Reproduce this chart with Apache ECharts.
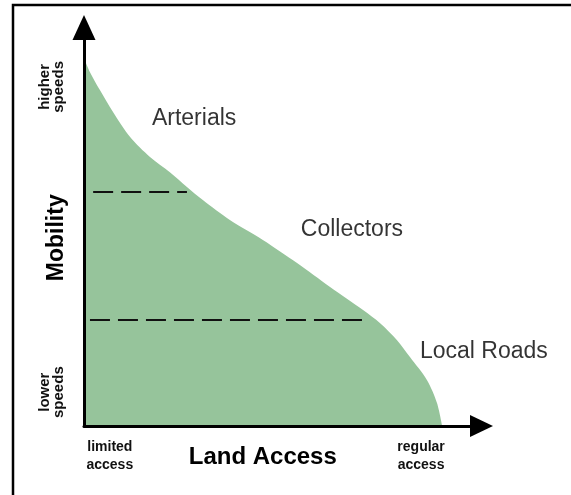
<!DOCTYPE html>
<html>
<head>
<meta charset="utf-8">
<script src="https://cdn.jsdelivr.net/npm/echarts@6/dist/echarts.min.js"></script>
<style>
  html, body { margin: 0; padding: 0; background: #fff; }
  #chart { width: 571px; height: 495px; }
</style>
</head>
<body>
<div id="chart"></div>
<script>
// 道路功能分级示意：机动性 vs 可达性
const curveX = [0, 1.5, 4.0, 7.3, 11.6, 16.6, 21.6, 25.9, 29.9, 36.7, 45.0, 53.6, 61.9, 70.2, 74.5, 78.7, 82.0, 86.3, 88.8, 90.1]
const curveY = [92.3, 88.8, 84.3, 78.8, 72.5, 67.5, 63.7, 60.0, 56.7, 51.7, 46.7, 40.9, 34.9, 29.1, 25.8, 21.6, 17.3, 11.5, 5.8, 0]

// 分级界线（虚线）
const upperBreakX = [2.3, 25.9]
const upperBreakY = 58.7
const lowerBreakX = [1.5, 71.4]
const lowerBreakY = 26.6

// 分级名称
const classNames = ['Arterials', 'Collectors', 'Local Roads']
const classX = [27.7, 67.4, 100.6]
const classY = [77.0, 49.2, 18.6]

// 轴端标签
const xTickValues = [6.5, 84.8]
const xTickLabels = ['limited\naccess', 'regular\naccess']
const yTickValues = [8.5, 85.1]
const yTickLabels = ['lower\nspeeds', 'higher\nspeeds']

const FONT = '"Liberation Sans", Arial, sans-serif'

const chart = echarts.init(document.getElementById('chart'))

function labelFor(values, labels) {
  return (v) => {
    const i = values.findIndex((t) => Math.abs(t - v) < 0.01)
    return i >= 0 ? labels[i] : ''
  }
}

chart.setOption({
  animation: false,
  grid: { left: 84, right: 89.5, top: 27.5, bottom: 69, containLabel: false, outerBoundsMode: 'none' },
  graphic: [
    {
      type: 'rect',
      shape: { x: 13, y: 5, width: 700, height: 700 },
      style: { fill: 'none', stroke: '#000', lineWidth: 2.5 },
      silent: true,
    },
  ],
  xAxis: {
    type: 'value',
    min: 0,
    max: 100,
    z: 10,
    splitLine: { show: false },
    axisTick: { show: false },
    axisLine: {
      lineStyle: { color: '#000', width: 3 },
      symbol: ['none', 'triangle'],
      symbolSize: [22, 23],
    },
    axisLabel: {
      customValues: xTickValues,
      formatter: labelFor(xTickValues, xTickLabels),
      color: '#111',
      fontFamily: FONT,
      fontSize: 14,
      fontWeight: 'bold',
      lineHeight: 18,
      margin: 12,
    },
    name: 'Land Access',
    nameLocation: 'middle',
    nameGap: 19,
    nameMoveOverlap: false,
    nameTextStyle: {
      color: '#000',
      fontFamily: FONT,
      fontSize: 24,
      fontWeight: 'bold',
      padding: [0, 40, 0, 0],
    },
  },
  yAxis: {
    type: 'value',
    min: 0,
    max: 100,
    z: 10,
    splitLine: { show: false },
    axisTick: { show: false },
    axisLine: {
      lineStyle: { color: '#000', width: 3 },
      symbol: ['none', 'triangle'],
      symbolSize: [23, 25],
    },
    axisLabel: {
      customValues: yTickValues,
      formatter: labelFor(yTickValues, yTickLabels),
      rotate: 90,
      color: '#111',
      fontFamily: FONT,
      fontSize: 15,
      fontWeight: 'bold',
      lineHeight: 14,
      margin: 18,
    },
    name: 'Mobility',
    nameLocation: 'middle',
    nameGap: 16,
    nameMoveOverlap: false,
    nameTextStyle: {
      color: '#000',
      fontFamily: FONT,
      fontSize: 23,
      fontWeight: 'bold',
      padding: [0, 22, 0, 0],
    },
  },
  series: [
    {
      type: 'line',
      data: curveX.map((x, i) => [x, curveY[i]]),
      smooth: 0.3,
      showSymbol: false,
      lineStyle: { width: 0 },
      areaStyle: { color: '#96c49b', opacity: 1 },
      z: 1,
    },
    {
      type: 'line',
      data: upperBreakX.map((x) => [x, upperBreakY]),
      showSymbol: false,
      lineStyle: { color: '#111', width: 2, type: [20, 8] },
      z: 3,
    },
    {
      type: 'line',
      data: lowerBreakX.map((x) => [x, lowerBreakY]),
      showSymbol: false,
      lineStyle: { color: '#111', width: 2, type: [20, 8] },
      z: 3,
    },
    {
      type: 'scatter',
      data: classNames.map((n, i) => ({ name: n, value: [classX[i], classY[i]] })),
      symbolSize: 0,
      clip: false,
      label: {
        show: true,
        position: 'inside',
        formatter: '{b}',
        color: '#000',
        fontFamily: FONT,
        fontSize: 23,
      },
      z: 4,
    },
  ],
})

window.addEventListener('resize', () => chart.resize())
</script>
</body>
</html>
